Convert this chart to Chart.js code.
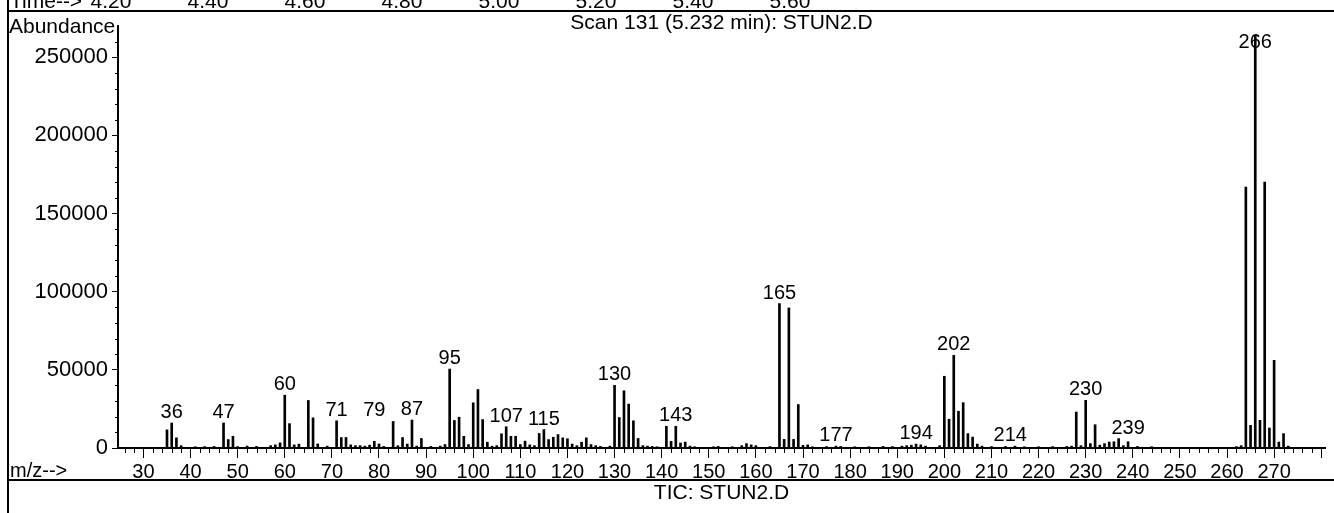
<!DOCTYPE html>
<html>
<head>
<meta charset="utf-8">
<title>Scan 131 (5.232 min): STUN2.D</title>
<script src="https://cdn.jsdelivr.net/npm/chart.js@4.4.0/dist/chart.umd.min.js"></script>
<style>
  html, body { margin: 0; padding: 0; background: #fff; }
  canvas { display: block; }
</style>
</head>
<body>
<canvas id="spectrum" width="1334" height="513"></canvas>
<script>
// m/z and abundance
const mzValues = [
  35, 36, 37, 38, 41, 43, 45, 47, 48, 49, 50, 52, 54, 57, 58, 59, 60, 61, 62, 63,
  65, 66, 67, 69, 71, 72, 73, 74, 75, 76, 77, 78, 79, 80, 81, 83, 84, 85, 86, 87,
  88, 89, 91, 93, 94, 95, 96, 97, 98, 99, 100, 101, 102, 103, 104, 105, 106, 107, 108, 109,
  110, 111, 112, 113, 114, 115, 116, 117, 118, 119, 120, 121, 122, 123, 124, 125, 126, 127, 129, 130,
  131, 132, 133, 134, 135, 136, 137, 138, 139, 141, 142, 143, 144, 145, 146, 147, 151, 152, 155, 157,
  158, 159, 160, 163, 165, 166, 167, 168, 169, 170, 171, 172, 175, 177, 178, 181, 184, 187, 189, 191,
  192, 193, 194, 195, 196, 199, 200, 201, 202, 203, 204, 205, 206, 207, 208, 210, 213, 215, 217, 220,
  223, 226, 227, 228, 229, 230, 231, 232, 233, 234, 235, 236, 237, 238, 239, 241, 244, 262, 263, 264,
  265, 266, 267, 268, 269, 270, 271, 272, 273
];
const abundances = [
  11600, 16000, 6500, 1500, 800, 900, 1000, 16000, 5400, 7500, 900, 1200, 1000, 1500, 2000, 3300, 33800, 15600, 2000, 2500,
  30400, 19300, 2600, 1200, 17400, 6700, 6700, 2000, 1500, 1500, 1200, 1800, 4300, 2600, 1000, 17000, 1500, 6700, 2500, 17900,
  1200, 6100, 1000, 1200, 2200, 50500, 17600, 19700, 7500, 2200, 28900, 37400, 18200, 3700, 1200, 1500, 9100, 13600, 7500, 7500,
  2200, 4400, 2000, 1500, 9300, 11800, 5400, 6900, 8600, 6500, 5900, 2500, 1500, 3700, 6500, 2200, 1500, 1000, 1200, 40100,
  19500, 36600, 28100, 17400, 6100, 1500, 1200, 1000, 800, 13900, 4300, 13900, 3200, 3800, 1200, 800, 800, 1000, 800, 1500,
  2800, 2000, 1500, 900, 92400, 5500, 89600, 5500, 27800, 1700, 2000, 800, 900, 1200, 1000, 800, 800, 1000, 900, 1200,
  1500, 1800, 2500, 2000, 1200, 1500, 45900, 18400, 59300, 23500, 29000, 9200, 7000, 2500, 1200, 900, 1000, 1200, 800, 800,
  900, 1000, 1200, 23000, 1500, 30500, 2800, 14900, 1800, 2800, 3800, 4000, 6000, 1500, 4000, 1000, 800, 900, 1500, 167000,
  14500, 264000, 17700, 170200, 12800, 56100, 3800, 9200, 1200
];
// peaks with their m/z printed above
const labelledPeaks = [36, 47, 60, 71, 79, 87, 95, 107, 115, 130, 143, 165, 177, 194, 202, 214, 230, 239, 266];
// axis tick labels
const abundanceTicks = [0, 50000, 100000, 150000, 200000, 250000];
// retention time strip across the top (cut off in the scan)
const timeLabels = ['4.20', '4.40', '4.60', '4.80', '5.00', '5.20', '5.40', '5.60'];
const scanTitle = 'Scan 131 (5.232 min): STUN2.D';
const ticTitle = 'TIC: STUN2.D';

const FONT = "'Liberation Sans', Arial, Helvetica, sans-serif";
Chart.defaults.font.family = FONT;
Chart.defaults.color = '#000';

const decorations = {
  id: 'decorations',
  afterDraw(chart) {
    const ctx = chart.ctx;
    const area = chart.chartArea;
    const xs = chart.scales.x;
    const ys = chart.scales.y;
    const W = chart.width;
    const midX = (area.left + area.right) / 2;
    ctx.save();
    ctx.strokeStyle = '#000';
    ctx.fillStyle = '#000';

    // minor ticks every 2 m/z and every 10000 counts
    ctx.lineWidth = 1;
    ctx.beginPath();
    for (let v = 26; v < xs.max; v += 2) {
      if (v % 10 === 0) continue;
      const px = Math.round(xs.getPixelForValue(v)) + 0.5;
      ctx.moveTo(px, area.bottom);
      ctx.lineTo(px, area.bottom + 5);
    }
    for (let v = 10000; v < ys.max; v += 10000) {
      if (v % 50000 === 0) continue;
      const py = Math.round(ys.getPixelForValue(v)) + 0.5;
      ctx.moveTo(area.left - 3, py);
      ctx.lineTo(area.left, py);
    }
    ctx.stroke();

    // peak labels above the tallest line in the neighbourhood
    ctx.font = '20px ' + FONT;
    ctx.textAlign = 'center';
    ctx.textBaseline = 'alphabetic';
    labelledPeaks.forEach(m => {
      let top = 0;
      mzValues.forEach((v, i) => {
        if (Math.abs(v - m) <= 4) top = Math.max(top, abundances[i]);
      });
      const py = Math.max(ys.getPixelForValue(top) - 5, area.top + 22);
      ctx.fillText(String(m), xs.getPixelForValue(m), py);
    });

    // page frame
    ctx.lineWidth = 2;
    ctx.beginPath();
    ctx.moveTo(8, 0); ctx.lineTo(8, chart.height);
    ctx.moveTo(8, 11); ctx.lineTo(W, 11);
    ctx.moveTo(8, 480); ctx.lineTo(W, 480);
    ctx.stroke();

    // header texts
    ctx.font = '21px ' + FONT;
    ctx.textAlign = 'left';
    ctx.textBaseline = 'alphabetic';
    ctx.fillText('Time-->', 10, 8);
    ctx.textAlign = 'center';
    timeLabels.forEach((t, i) => ctx.fillText(t, 111 + i * 97, 8));

    ctx.textBaseline = 'middle';
    ctx.textAlign = 'left';
    ctx.fillText('Abundance', 9, 27);
    ctx.textAlign = 'center';
    ctx.fillText(scanTitle, midX, 23);
    ctx.fillText(ticTitle, midX, 493);

    ctx.font = '20px ' + FONT;
    ctx.textAlign = 'left';
    ctx.fillText('m/z-->', 10, 471);
    ctx.restore();
  }
};

new Chart(document.getElementById('spectrum'), {
  type: 'bar',
  data: {
    datasets: [{
      data: mzValues.map((m, i) => ({ x: m, y: abundances[i] })),
      backgroundColor: '#000',
      borderWidth: 0,
      barThickness: 2
    }]
  },
  options: {
    responsive: false,
    animation: false,
    layout: { padding: { top: 26, right: 9, left: 0, bottom: 0 } },
    plugins: {
      legend: { display: false },
      tooltip: { enabled: false },
      title: { display: false }
    },
    scales: {
      x: {
        type: 'linear',
        offset: false,
        min: 24.6,
        max: 280.8,
        afterFit: s => { s.height = 65; },
        border: { display: true, color: '#000', width: 2 },
        grid: { display: true, offset: false, drawOnChartArea: false, drawTicks: true, tickLength: 10, color: '#000', lineWidth: 1 },
        ticks: {
          stepSize: 10,
          includeBounds: false,
          autoSkip: false,
          maxRotation: 0,
          padding: 2,
          font: { size: 20 },
          color: '#000',
          callback: v => (v >= 30 && v <= 270 ? String(v) : '')
        }
      },
      y: {
        min: 0,
        max: 270000,
        afterFit: s => { s.width = 118; },
        afterBuildTicks: s => { s.ticks = abundanceTicks.map(v => ({ value: v })); },
        border: { display: true, color: '#000', width: 2 },
        grid: { display: true, drawOnChartArea: false, drawTicks: true, tickLength: 6, color: '#000', lineWidth: 1 },
        ticks: {
          padding: 4,
          font: { size: 22 },
          color: '#000',
          callback: v => String(v)
        }
      }
    }
  },
  plugins: [decorations]
});
</script>
</body>
</html>
